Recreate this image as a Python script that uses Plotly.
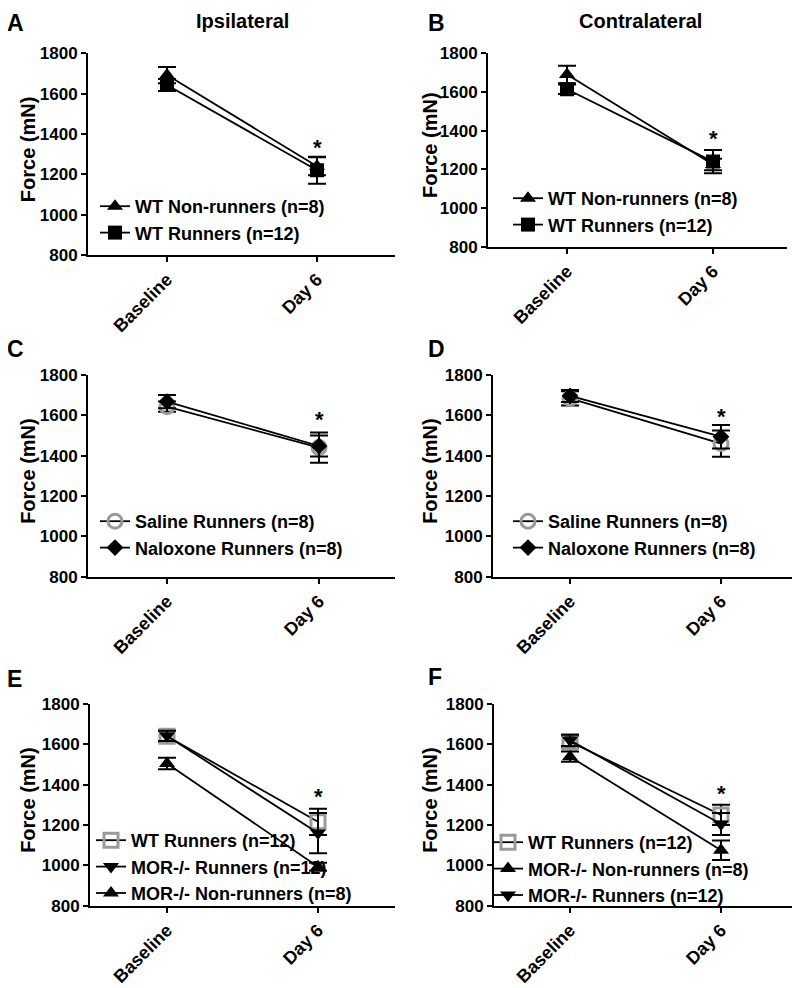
import plotly.graph_objects as go

# ---------------- data ----------------
categories = ["Baseline", "Day 6"]
y_ticks = [800, 1000, 1200, 1400, 1600, 1800]

# Panel A (Ipsilateral)
a_wt_nonrun = [1692, 1240]
a_wt_nonrun_err = [40, 45]
a_wt_run = [1643, 1220]
a_wt_run_err = [30, 67]

# Panel B (Contralateral)
b_wt_nonrun = [1690, 1225]
b_wt_nonrun_err = [45, 30]
b_wt_run = [1614, 1240]
b_wt_run_err = [25, 60]

# Panel C
c_saline = [1643, 1440]
c_saline_err = [25, 75]
c_naloxone = [1668, 1448]
c_naloxone_err = [33, 52]

# Panel D
d_saline = [1684, 1460]
d_saline_err = [35, 65]
d_naloxone = [1696, 1494]
d_naloxone_err = [30, 58]

# Panel E
e_wt_run = [1640, 1216]
e_wt_run_err = [28, 65]
e_mor_run = [1642, 1160]
e_mor_run_err = [25, 100]
e_mor_nonrun = [1505, 993]
e_mor_nonrun_err = [28, 20]

# Panel F
f_wt_run = [1613, 1250]
f_wt_run_err = [30, 50]
f_mor_nonrun = [1539, 1075]
f_mor_nonrun_err = [25, 48]
f_mor_run = [1620, 1205]
f_mor_run_err = [28, 55]

star_values = {"A": 1335, "B": 1362, "C": 1577, "D": 1593, "E": 1340, "F": 1354}
y_title = "Force (mN)"

# ---------------- styling ----------------
FONT = "Liberation Sans, Arial, sans-serif"
OFF = 8  # page body margin
W, H = 800 - OFF, 988 - OFF

def px_x(p):
    return (p - OFF) / W

def px_y(p):
    return 1 - (p - OFF) / H

panels = {
    # name: (x0, x1, y_top, y_bottom, baseline_px, day6_px, ytitle_x)
    "A": (88, 395, 53.3, 255, 167, 317, 28),
    "B": (488, 787, 53.3, 246.7, 567, 713, 430),
    "C": (88, 395, 375, 576.7, 167, 319, 28),
    "D": (493, 797, 375, 576.7, 570, 721, 430),
    "E": (90, 395, 704, 905.7, 167, 318, 28),
    "F": (494, 797, 704, 905.7, 570, 721, 430),
}

fig = go.Figure()

sym = {
    "tri": dict(symbol="triangle-up", color="black", size=14),
    "sq": dict(symbol="square", color="black", size=14),
    "circ": dict(symbol="circle-open", color="#9a9a9a", size=14, line=dict(width=3, color="#9a9a9a")),
    "dia": dict(symbol="diamond", color="black", size=13),
    "tridown": dict(symbol="triangle-down", color="black", size=14),
    "sqopen": dict(symbol="square-open", color="#9a9a9a", size=14, line=dict(width=3, color="#9a9a9a")),
}

def add(idx, name, y, err, marker, legend):
    sfx = "" if idx == 1 else str(idx)
    fig.add_trace(go.Scatter(
        x=categories, y=y, name=name, mode="lines+markers",
        line=dict(color="black", width=1.8),
        marker=marker,
        error_y=dict(type="data", array=err, visible=True, color="black", thickness=2, width=9),
        xaxis="x" + sfx, yaxis="y" + sfx, legend=legend,
    ))

add(1, "WT Non-runners (n=8)", a_wt_nonrun, a_wt_nonrun_err, sym["tri"], "legend")
add(1, "WT Runners (n=12)", a_wt_run, a_wt_run_err, sym["sq"], "legend")
add(2, "WT Non-runners (n=8)", b_wt_nonrun, b_wt_nonrun_err, sym["tri"], "legend2")
add(2, "WT Runners (n=12)", b_wt_run, b_wt_run_err, sym["sq"], "legend2")
add(3, "Saline Runners (n=8)", c_saline, c_saline_err, sym["circ"], "legend3")
add(3, "Naloxone Runners (n=8)", c_naloxone, c_naloxone_err, sym["dia"], "legend3")
add(4, "Saline Runners (n=8)", d_saline, d_saline_err, sym["circ"], "legend4")
add(4, "Naloxone Runners (n=8)", d_naloxone, d_naloxone_err, sym["dia"], "legend4")
add(5, "WT Runners (n=12)", e_wt_run, e_wt_run_err, sym["sqopen"], "legend5")
add(5, "MOR-/- Runners (n=12)", e_mor_run, e_mor_run_err, sym["tridown"], "legend5")
add(5, "MOR-/- Non-runners (n=8)", e_mor_nonrun, e_mor_nonrun_err, sym["tri"], "legend5")
add(6, "WT Runners (n=12)", f_wt_run, f_wt_run_err, sym["sqopen"], "legend6")
add(6, "MOR-/- Non-runners (n=8)", f_mor_nonrun, f_mor_nonrun_err, sym["tri"], "legend6")
add(6, "MOR-/- Runners (n=12)", f_mor_run, f_mor_run_err, sym["tridown"], "legend6")

legend_pos = {
    "legend": (95, 188),
    "legend2": (508, 180),
    "legend3": (95, 503),
    "legend4": (508, 503),
    "legend5": (91, 822),
    "legend6": (488, 824),
}

layout = dict(
    width=W, height=H, margin=dict(l=0, r=0, t=0, b=0, autoexpand=False),
    paper_bgcolor="white", plot_bgcolor="white",
    font=dict(family=FONT, color="black"),
    showlegend=True,
)

for i, (name, (x0, x1, yt, yb, bpx, dpx, tx)) in enumerate(panels.items(), start=1):
    sfx = "" if i == 1 else str(i)
    per = dpx - bpx
    xr = [-(bpx - x0) / per, (x1 - bpx) / per]
    layout["xaxis" + sfx] = dict(
        domain=[px_x(x0), px_x(x1)], anchor="y" + sfx, type="category",
        categoryorder="array", categoryarray=categories, range=xr, automargin=False,
        showline=True, linecolor="black", linewidth=2, showgrid=False, zeroline=False,
        ticks="outside", ticklen=5, tickwidth=2, tickcolor="black", tickangle=-45,
        tickfont=dict(family=FONT, size=18, weight="bold", color="black"),
        fixedrange=True,
    )
    layout["yaxis" + sfx] = dict(
        domain=[px_y(yb), px_y(yt)], anchor="x" + sfx, range=[800, 1800], automargin=False,
        tickvals=y_ticks, showline=True, linecolor="black", linewidth=2,
        showgrid=False, zeroline=False, ticks="outside", ticklen=5, tickwidth=2,
        tickcolor="black", tickfont=dict(family=FONT, size=17, weight="bold", color="black"),
        fixedrange=True,
    )

for lg, (lx, ly) in legend_pos.items():
    layout[lg] = dict(
        x=px_x(lx), y=px_y(ly), xanchor="left", yanchor="top",
        bgcolor="rgba(0,0,0,0)", borderwidth=0,
        font=dict(family=FONT, size=18, weight="bold", color="black"),
        tracegroupgap=0, itemwidth=30,
    )

fig.update_layout(**layout)

# y-axis titles, significance stars
for i, (name, (x0, x1, yt, yb, bpx, dpx, tx)) in enumerate(panels.items(), start=1):
    sfx = "" if i == 1 else str(i)
    fig.add_annotation(x=px_x(tx), y=px_y((yt + yb) / 2 - 5), xref="paper", yref="paper",
                       text=y_title, textangle=-90, showarrow=False,
                       xanchor="center", yanchor="middle",
                       font=dict(family=FONT, size=20, weight="bold", color="black"))
    fig.add_annotation(x="Day 6", y=star_values[name], xref="x" + sfx, yref="y" + sfx,
                       text="*", showarrow=False, yanchor="middle",
                       font=dict(family=FONT, size=22, weight="bold", color="black"))

# panel letters
letters = {"A": (5, 23), "B": (426, 23), "C": (5, 349), "D": (426, 349), "E": (5, 679), "F": (426, 677)}
for k, (lx, ly) in letters.items():
    fig.add_annotation(x=px_x(lx), y=px_y(ly), xref="paper", yref="paper", xanchor="left",
                       yanchor="middle", text=k, showarrow=False,
                       font=dict(family=FONT, size=23, weight="bold", color="black"))

# column titles
fig.add_annotation(x=px_x(242), y=px_y(21), xref="paper", yref="paper", text="Ipsilateral",
                   showarrow=False, xanchor="center", yanchor="middle",
                   font=dict(family=FONT, size=20, weight="bold", color="black"))
fig.add_annotation(x=px_x(640), y=px_y(21), xref="paper", yref="paper", text="Contralateral",
                   showarrow=False, xanchor="center", yanchor="middle",
                   font=dict(family=FONT, size=20, weight="bold", color="black"))

fig.write_html("out.html")
